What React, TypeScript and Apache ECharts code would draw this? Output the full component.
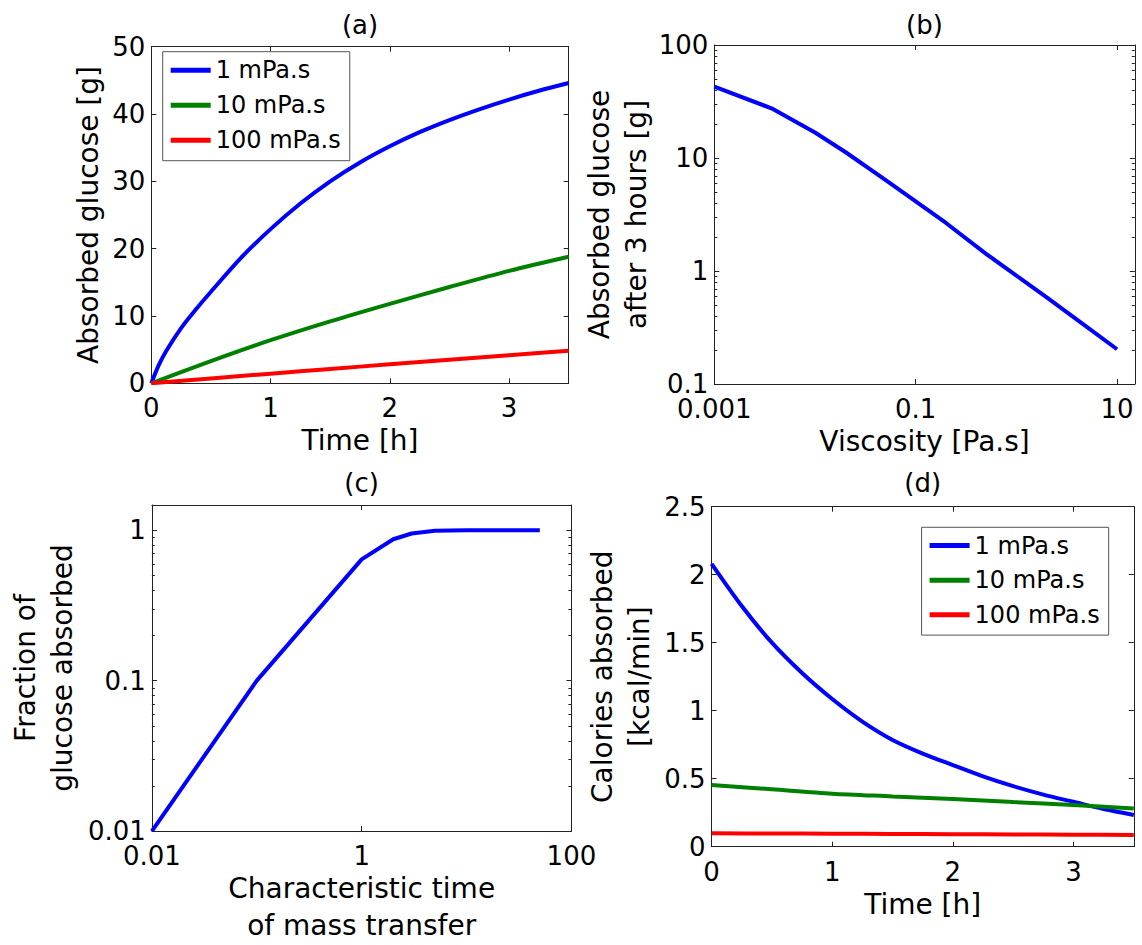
import React, { useEffect, useRef } from 'react';
import * as echarts from 'echarts';

const FONT = '"DejaVu Sans", "Liberation Sans", Arial, sans-serif';

// ---------- Panel (a): absorbed glucose vs time ----------
const timeA = [0, 0.0625, 0.125, 0.25, 0.375, 0.5, 0.75, 1, 1.25, 1.5, 1.75, 2, 2.25, 2.5, 2.75, 3, 3.25, 3.5];
const glucose1 = [0, 2.7, 4.8, 8.2, 11.0, 13.6, 18.6, 22.9, 26.7, 30.0, 32.8, 35.2, 37.3, 39.1, 40.7, 42.15, 43.45, 44.6];
const timeCoarse = [0, 0.5, 1, 1.5, 2, 2.5, 3, 3.5];
const glucose10 = [0, 3.3, 6.4, 9.2, 11.8, 14.3, 16.7, 18.8];
const glucose100 = [0, 0.72, 1.43, 2.13, 2.82, 3.5, 4.17, 4.82];
const aXTicks = [0, 1, 2, 3];
const aYTicks = [0, 10, 20, 30, 40, 50];

// ---------- Panel (b): absorbed glucose after 3 h vs viscosity ----------
const viscosity = [0.001, 0.0037, 0.01, 0.02, 0.05, 0.1, 0.2, 0.5, 1, 2, 5, 10];
const glucose3h = [42.8, 27.5, 16.8, 11.3, 6.4, 4.13, 2.66, 1.42, 0.91, 0.585, 0.32, 0.203];
const bXTicks = [0.001, 0.1, 10];
const bYTicks = [0.1, 1, 10, 100];
const bYMinorTicks = [0.2, 0.3, 0.4, 0.5, 0.6, 0.7, 0.8, 0.9, 2, 3, 4, 5, 6, 7, 8, 9, 20, 30, 40, 50, 60, 70, 80, 90];

// ---------- Panel (c): fraction absorbed vs characteristic time ----------
const charTime = [0.01, 0.1, 1, 2, 3, 5, 10, 50];
const fraction = [0.01, 0.1, 0.64, 0.87, 0.95, 0.99, 1.0, 1.0];
const cXTicks = [0.01, 1, 100];
const cYTicks = [0.01, 0.1, 1];
const cYMinorTicks = [0.02, 0.03, 0.04, 0.05, 0.06, 0.07, 0.08, 0.09, 0.2, 0.3, 0.4, 0.5, 0.6, 0.7, 0.8, 0.9];

// ---------- Panel (d): calories absorbed vs time ----------
const timeD = [0, 0.25, 0.5, 0.75, 1, 1.25, 1.5, 1.75, 2, 2.25, 2.5, 2.75, 3, 3.25, 3.5];
const calories1 = [2.08, 1.77, 1.5, 1.277, 1.086, 0.92, 0.785, 0.685, 0.6, 0.517, 0.445, 0.383, 0.33, 0.277, 0.233];
const calories10 = [0.454, 0.422, 0.39, 0.37, 0.35, 0.328, 0.307, 0.28];
const calories100 = [0.098, 0.097, 0.096, 0.094, 0.092, 0.09, 0.088, 0.086];
const dXTicks = [0, 1, 2, 3];
const dYTicks = [0, 0.5, 1, 1.5, 2, 2.5];

const seriesNames = ['1 mPa.s', '10 mPa.s', '100 mPa.s'];
const seriesColors = ['#0000ff', '#008000', '#ff0000'];

const zip = (xs: number[], ys: number[]) => xs.map((x, i) => [x, ys[i]]);

const labelFormatter = (ticks: number[]) => (v: number) => {
  const m = ticks.find((t) => (t === 0 ? Math.abs(v) < 1e-9 : Math.abs(v - t) <= 1e-6 * Math.abs(t)));
  return m === undefined ? '' : String(m);
};

const FRAME = '#222';
const tickFont = { fontSize: 26, fontFamily: FONT, color: '#000' };
const nameFont = { fontSize: 28, fontFamily: FONT, color: '#000', lineHeight: 37 };

function xAxes(grid: number, base: any, ticks: number[], name: string, nameGap: number) {
  const common = {
    gridIndex: grid,
    ...base,
    splitLine: { show: false },
    axisLine: { show: true, onZero: false, lineStyle: { color: FRAME, width: 1 } },
    axisTick: { show: true, inside: true, length: 5, lineStyle: { color: FRAME, width: 1 } },
  };
  return [
    {
      ...common,
      position: 'bottom',
      name,
      nameLocation: 'middle',
      nameGap,
      nameTextStyle: nameFont,
      axisLabel: { show: true, margin: 12, formatter: labelFormatter(ticks), ...tickFont },
    },
    { ...common, position: 'top', axisLabel: { show: false } },
  ];
}

function yAxes(grid: number, base: any, ticks: number[], name: string, nameGap: number) {
  const common = {
    gridIndex: grid,
    ...base,
    splitLine: { show: false },
    axisLine: { show: true, onZero: false, lineStyle: { color: FRAME, width: 1 } },
    axisTick: { show: true, inside: true, length: 5, lineStyle: { color: FRAME, width: 1 } },
  };
  return [
    {
      ...common,
      position: 'left',
      name,
      nameLocation: 'middle',
      nameGap,
      nameTextStyle: nameFont,
      axisLabel: { show: true, margin: 6, formatter: labelFormatter(ticks), ...tickFont },
    },
    { ...common, position: 'right', axisLabel: { show: false } },
  ];
}

function lineSeries(panel: number, name: string, color: string, data: number[][], smooth: boolean | number) {
  return {
    type: 'line',
    name,
    xAxisIndex: panel * 2,
    yAxisIndex: panel * 2,
    data,
    showSymbol: false,
    symbol: 'none',
    smooth,
    lineStyle: { color, width: 4 },
    itemStyle: { color },
    z: 2,
  };
}

function minorTickSeries(panel: number, xRef: number, values: number[]) {
  return {
    type: 'custom',
    name: 'minor' + panel,
    xAxisIndex: panel * 2,
    yAxisIndex: panel * 2,
    silent: true,
    clip: false,
    z: 3,
    data: values.map((v) => [xRef, v]),
    renderItem: (params: any, api: any) => {
      const p = api.coord([api.value(0), api.value(1)]);
      const cs = params.coordSys;
      const y = Math.round(p[1]) + 0.5;
      const st = { stroke: FRAME, lineWidth: 1 };
      return {
        type: 'group',
        children: [
          { type: 'line', shape: { x1: cs.x, y1: y, x2: cs.x + 3, y2: y }, style: st },
          { type: 'line', shape: { x1: cs.x + cs.width - 3, y1: y, x2: cs.x + cs.width, y2: y }, style: st },
        ],
      };
    },
  };
}

const grids = [
  { left: 151.3, top: 46.7, width: 417.4, height: 336.6 },
  { left: 714.3, top: 45, width: 420.5, height: 339 },
  { left: 151.9, top: 505, width: 419.5, height: 340 },
  { left: 711.6, top: 506.7, width: 422.2, height: 340 },
];

const titleText = (text: string, x: number, y: number) => ({
  type: 'text',
  x,
  y,
  style: { text, fontSize: 26, fontFamily: FONT, fill: '#000', align: 'center', verticalAlign: 'middle' },
});

const legendBase = {
  orient: 'vertical',
  data: seriesNames,
  icon: 'rect',
  itemWidth: 40,
  itemHeight: 5,
  itemGap: 0,
  padding: [1, 9, 3, 8],
  borderColor: '#555',
  borderWidth: 1,
  backgroundColor: '#fff',
  selectedMode: false,
};

const option: any = {
  animation: false,
  backgroundColor: '#fff',
  grid: grids.map((g) => ({ ...g, containLabel: false })),
  xAxis: [
    ...xAxes(0, { type: 'value', min: 0, max: 3.5, interval: 1 }, aXTicks, 'Time [h]', 33),
    ...xAxes(1, { type: 'log', logBase: 10, min: 0.001, max: 15, interval: 2 }, bXTicks, 'Viscosity [Pa.s]', 33),
    ...xAxes(2, { type: 'log', logBase: 10, min: 0.01, max: 100, interval: 2 }, cXTicks, 'Characteristic time\nof mass transfer', 35),
    ...xAxes(3, { type: 'value', min: 0, max: 3.5, interval: 1 }, dXTicks, 'Time [h]', 37),
  ],
  yAxis: [
    ...yAxes(0, { type: 'value', min: 0, max: 50, interval: 10 }, aYTicks, 'Absorbed glucose [g]', 44),
    ...yAxes(1, { type: 'log', logBase: 10, min: 0.1, max: 100, interval: 1 }, bYTicks, 'Absorbed glucose\nafter 3 hours [g]', 59),
    ...yAxes(2, { type: 'log', logBase: 10, min: 0.01, max: 1.47, interval: 1 }, cYTicks, 'Fraction of\nglucose absorbed', 71),
    ...yAxes(3, { type: 'value', min: 0, max: 2.5, interval: 0.5 }, dYTicks, 'Calories absorbed\n[kcal/min]', 54),
  ],
  legend: [
    { ...legendBase, left: 162.7, top: 51.7, textStyle: { fontSize: 24, fontFamily: FONT, color: '#000', lineHeight: 35 } },
    { ...legendBase, left: 921.6, top: 527.3, textStyle: { fontSize: 24, fontFamily: FONT, color: '#000', lineHeight: 34.6 } },
  ],
  graphic: [
    titleText('(a)', 360, 25),
    titleText('(b)', 924.5, 25),
    titleText('(c)', 361.6, 483),
    titleText('(d)', 922.7, 483),
  ],
  series: [
    lineSeries(0, seriesNames[0], seriesColors[0], zip(timeA, glucose1), 0.3),
    lineSeries(0, seriesNames[1], seriesColors[1], zip(timeCoarse, glucose10), 0.3),
    lineSeries(0, seriesNames[2], seriesColors[2], zip(timeCoarse, glucose100), 0.3),
    lineSeries(1, 'Absorbed after 3 h', seriesColors[0], zip(viscosity, glucose3h), false),
    minorTickSeries(1, 1, bYMinorTicks),
    lineSeries(2, 'Fraction absorbed', seriesColors[0], zip(charTime, fraction), false),
    minorTickSeries(2, 1, cYMinorTicks),
    lineSeries(3, seriesNames[0], seriesColors[0], zip(timeD, calories1), 0.3),
    lineSeries(3, seriesNames[1], seriesColors[1], zip(timeCoarse, calories10), 0.3),
    lineSeries(3, seriesNames[2], seriesColors[2], zip(timeCoarse, calories100), 0.3),
  ],
};

export default function App() {
  const ref = useRef<HTMLDivElement>(null);
  useEffect(() => {
    if (!ref.current) return;
    const chart = echarts.init(ref.current, undefined, { renderer: 'svg' });
    chart.setOption(option);
    return () => chart.dispose();
  }, []);
  return (
    <div
      ref={ref}
      style={{ position: 'absolute', left: 0, top: 0, width: 1142, height: 945, background: '#fff' }}
    />
  );
}
